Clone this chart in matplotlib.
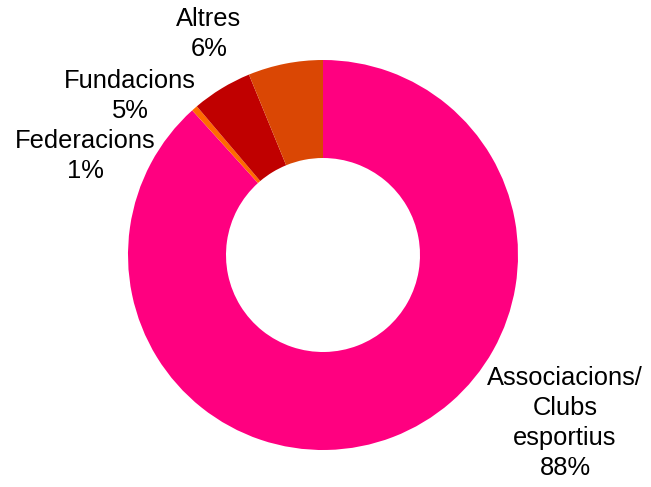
import matplotlib
matplotlib.use("Agg")
import matplotlib.pyplot as plt

# slice data, clockwise from 12 o'clock
categories = ["Associacions/\nClubs\nesportius", "Federacions", "Fundacions", "Altres"]
shares = [88.3, 0.5, 5.0, 6.2]
pct_labels = ["88%", "1%", "5%", "6%"]
colors = ["#FF0080", "#FF6A00", "#C00000", "#DA4704"]

plt.rcParams["font.family"] = ["Liberation Sans", "DejaVu Sans"]

W, H = 651, 487
fig = plt.figure(figsize=(W / 100, H / 100), dpi=100)
ax = fig.add_axes([0, 0, 1, 1])

cx, cy = 323, H - 255
ax.pie(shares, colors=colors, startangle=90, counterclock=False,
       center=(cx, cy), radius=195, frame=True,
       wedgeprops=dict(width=98, linewidth=0))
ax.set_xlim(0, W)
ax.set_ylim(0, H)
ax.set_aspect("equal")
ax.axis("off")

# label positions (pixel coords, y from top)
label_pos = [(565, 423), (85, 156), (130, 96), (209, 34)]
for name, pct, (x, y) in zip(categories, pct_labels, label_pos):
    ax.text(x, H - y, f"{name}\n{pct}", ha="center", va="center",
            fontsize=18.4, linespacing=1.33, color="black")

fig.savefig("out.png", dpi=100)
